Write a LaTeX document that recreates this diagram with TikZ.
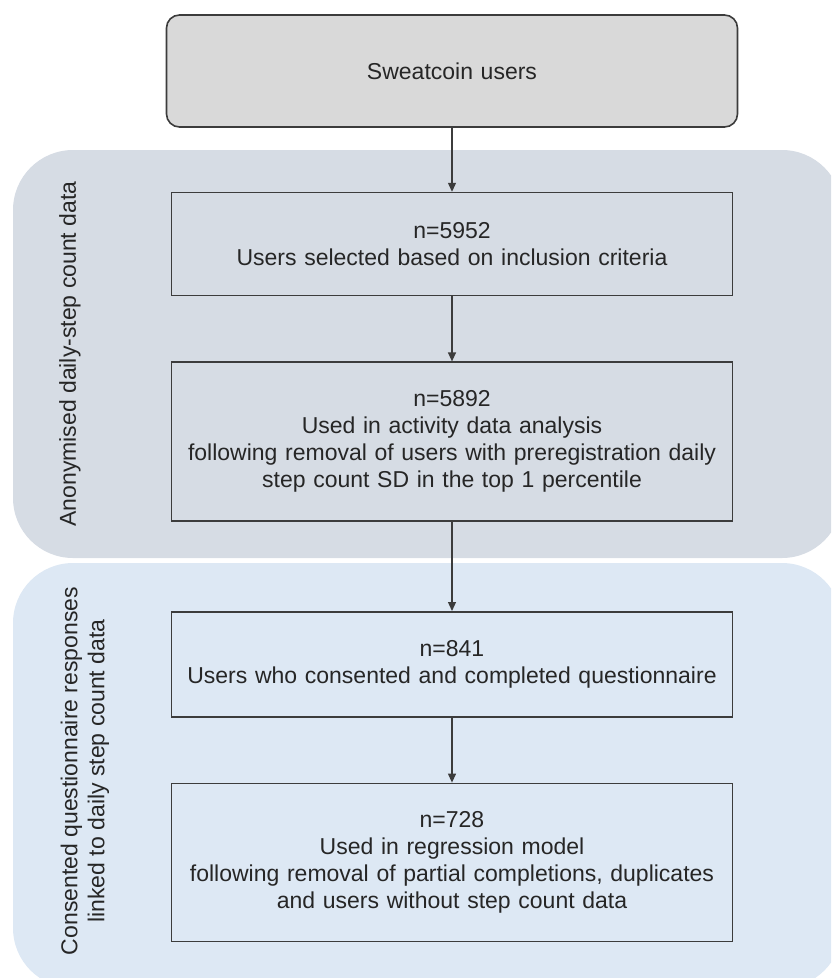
\documentclass[tikz,border=0pt]{standalone}
\usepackage{fontspec}
\setmainfont{Liberation Sans}
\usepackage{tikz}
\usetikzlibrary{arrows.meta, positioning}
\definecolor{panelgrey}{HTML}{D6DCE4}
\definecolor{panelblue}{HTML}{DDE8F4}
\definecolor{boxgrey}{HTML}{D9D9D9}
\definecolor{linegrey}{HTML}{3C3C3C}
\definecolor{textgrey}{HTML}{262626}
\tikzstyle{startstop} = [rectangle, rounded corners=13pt,
    minimum width=571pt, minimum height=112pt, text width=540pt,
    align=center, draw=linegrey, line width=1.6pt, fill=boxgrey]
\tikzstyle{process} = [rectangle,
    minimum width=561pt, text width=540pt,
    align=center, draw=linegrey, line width=1.6pt]
\tikzstyle{sidelabel} = [rotate=90, align=center]
\tikzstyle{arrow} = [line width=1.2pt, draw=linegrey, -{Triangle[length=9pt,width=8pt]}]

\begin{document}
\begin{tikzpicture}[x=1pt, y=-1pt, node distance=65pt,
    font=\fontsize{23}{27}\selectfont, text=textgrey]

        \useasboundingbox (0,0) rectangle (831,978);
        \clip (0,0) rectangle (831,978);

        % Panels
        \fill[panelgrey, rounded corners=60pt] (13,150) rectangle (842,558);
        \fill[panelblue, rounded corners=60pt] (13,563) rectangle (842,988);

        \node (lab1) [sidelabel] at (70,354) {Anonymised daily-step count data};
        \node (lab2) [sidelabel] at (85,771) {Consented questionnaire responses\\linked to daily step count data};

        % Nodes
        \node (start) [startstop] at (452,71) {Sweatcoin users};

        \node (pro1) [process, minimum height=103pt, below=64pt of start] {n=5952\\Users selected based on inclusion criteria};

        \node (pro2) [process, minimum height=159pt, below=of pro1] {n=5892\\Used in activity data analysis\\following removal of users with preregistration daily\\step count SD in the top 1 percentile};

        \node (pro3) [process, minimum height=105pt, below=89pt of pro2] {n=841\\Users who consented and completed questionnaire};

        \node (pro4) [process, minimum height=158pt, below=of pro3] {n=728\\Used in regression model\\following removal of partial completions, duplicates\\and users without step count data};

        % Arrows
        \draw [arrow] (start) -- (pro1);
        \draw [arrow] (pro1) -- (pro2);
        \draw [arrow] (pro2) -- (pro3);
        \draw [arrow] (pro3) -- (pro4);

    \end{tikzpicture}
\end{document}
